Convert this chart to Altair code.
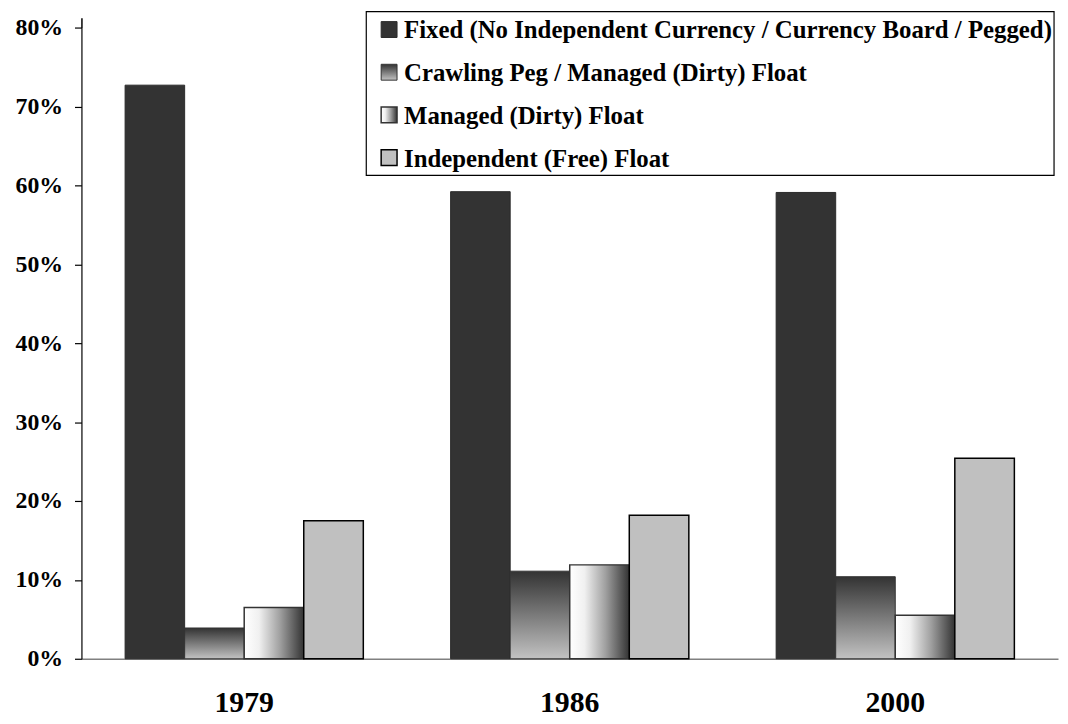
import altair as alt
import pandas as pd

# ---- data ----
years = ["1979", "1986", "2000"]
series = [
    "Fixed (No Independent Currency / Currency Board / Pegged)",
    "Crawling Peg / Managed (Dirty) Float",
    "Managed (Dirty) Float",
    "Independent (Free) Float",
]
fixed = [0.727, 0.592, 0.591]
crawling = [0.039, 0.111, 0.104]
managed = [0.065, 0.119, 0.055]
independent = [0.175, 0.182, 0.254]
y_ticks = [0, 0.1, 0.2, 0.3, 0.4, 0.5, 0.6, 0.7, 0.8]

values_by_series = [fixed, crawling, managed, independent]
rows = []
for s, vals in zip(series, values_by_series):
    for yr, v in zip(years, vals):
        rows.append({"year": yr, "series": s, "value": v})
df = pd.DataFrame(rows)
legend_df = pd.DataFrame({"series": series, "order": list(range(len(series)))})

FONT = "Liberation Serif"


def grad(stops, horizontal):
    return alt.LinearGradient(
        gradient="linear",
        stops=[alt.GradientStop(color=c, offset=o) for o, c in stops],
        x1=0, y1=0,
        x2=1 if horizontal else 0,
        y2=0 if horizontal else 1,
    )


styles = [
    dict(fill="#333333", stroke="#2a2a2a", strokeWidth=1),
    dict(fill=grad([(0, "#333333"), (0.5, "#7a7a7a"), (1, "#c2c2c2")], False),
         stroke="#333333", strokeWidth=1),
    dict(fill=grad([(0, "#ffffff"), (0.25, "#f0f0f0"), (0.6, "#a0a0a0"), (1, "#333333")], True),
         stroke="#333333", strokeWidth=1.5),
    dict(fill="#c0c0c0", stroke="#000000", strokeWidth=1.5),
]

x_scale = alt.Scale(domain=years, paddingInner=0, paddingOuter=0)
xoff = alt.XOffset("series:N", sort=series,
                   scale=alt.Scale(domain=series, paddingInner=0, paddingOuter=0.733))
y_scale = alt.Scale(domain=[0, 0.8], nice=False)

x_label_axis = alt.Axis(
    title=None, labelAngle=0, labelFont=FONT, labelFontSize=30, labelFontWeight="bold",
    labelColor="black", ticks=False, tickSize=0, domain=True, domainColor="#808080",
    domainWidth=1.5, labelPadding=44, labelBaseline="middle", grid=False,
)
x_tick_axis = alt.Axis(
    title=None, labels=False, domain=False, ticks=True, tickSize=10, tickColor="black",
    tickWidth=1.5, bandPosition=0, grid=False,
)
y_axis = alt.Axis(
    title=None, values=y_ticks, format=".0%", labelFont=FONT, labelFontSize=24,
    labelFontWeight="bold", labelColor="black", tickSize=7, tickColor="black",
    tickWidth=1.2, domainColor="black", domainWidth=1.2, labelPadding=12, grid=False,
)

layers = []
for i, (s, st) in enumerate(zip(series, styles)):
    if i == 0:
        xa = x_label_axis
    elif i == 1:
        xa = x_tick_axis
    else:
        xa = None
    layer = (
        alt.Chart(df)
        .transform_filter(alt.datum.series == s)
        .mark_bar(**st)
        .encode(
            x=alt.X("year:N", sort=years, scale=x_scale, axis=xa),
            xOffset=xoff,
            y=alt.Y("value:Q", scale=y_scale, axis=y_axis if i == 0 else None),
        )
    )
    layers.append(layer)

# ---- legend (drawn by hand so that symbols can carry the gradients) ----
box = (
    alt.Chart(legend_df)
    .transform_filter(alt.datum.order == 0)
    .mark_rect(fill="white", stroke="black", strokeWidth=1.2)
    .encode(x=alt.value(287), x2=alt.value(980), y=alt.value(-16), y2=alt.value(149))
)
layers.append(box)

row0, row_step, sym = 2, 43, 16
for i, (s, st) in enumerate(zip(series, styles)):
    cy = row0 + row_step * i
    sym_layer = (
        alt.Chart(legend_df)
        .transform_filter(alt.datum.order == i)
        .mark_rect(**st)
        .encode(x=alt.value(302), x2=alt.value(302 + sym),
                y=alt.value(cy - sym / 2), y2=alt.value(cy + sym / 2))
    )
    txt_layer = (
        alt.Chart(legend_df)
        .transform_filter(alt.datum.order == i)
        .mark_text(align="left", baseline="middle", font=FONT, fontSize=25,
                   fontWeight="bold", color="black")
        .encode(x=alt.value(325), y=alt.value(cy + 1), text="series:N")
    )
    layers += [sym_layer, txt_layer]

chart = (
    alt.layer(*layers)
    .resolve_axis(x="independent", y="independent")
    .properties(
        width=984, height=636,
        padding={"left": 74, "top": 17, "right": 2, "bottom": 60},
        autosize=alt.AutoSizeParams(type="none"),
        background="white",
    )
    .configure_view(stroke=None)
)

chart.save("out.html", embed_options={"renderer": "svg", "actions": False})
